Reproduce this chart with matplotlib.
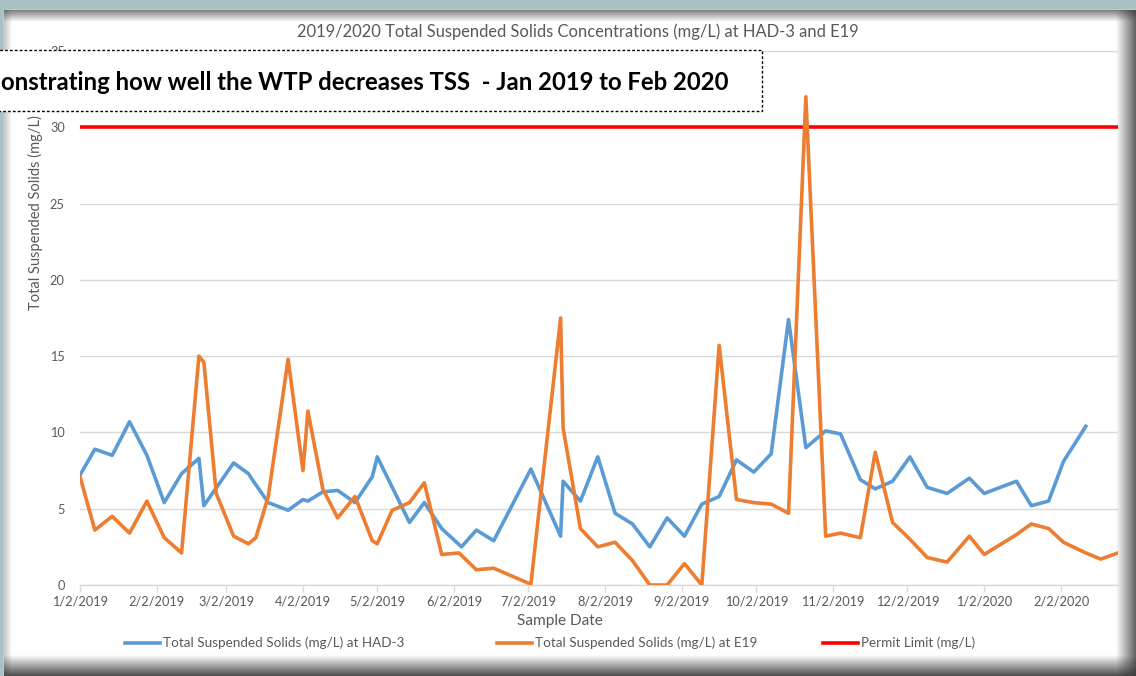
import matplotlib
matplotlib.use('Agg')

import matplotlib.pyplot as plt
import matplotlib.dates as mdates
from matplotlib.patches import Rectangle
import numpy as np
import pandas as pd

W, H = 1136, 676

# Sample data (mg/L)
had3_dates = ["2019-01-02", "2019-01-08", "2019-01-15", "2019-01-22", "2019-01-29",
              "2019-02-05", "2019-02-12", "2019-02-19", "2019-02-21",
              "2019-03-05", "2019-03-11", "2019-03-13", "2019-03-19", "2019-03-27",
              "2019-04-02", "2019-04-04", "2019-04-10", "2019-04-16", "2019-04-23", "2019-04-30",
              "2019-05-02", "2019-05-15", "2019-05-21", "2019-05-28",
              "2019-06-05", "2019-06-11", "2019-06-18",
              "2019-07-03", "2019-07-15", "2019-07-16", "2019-07-23", "2019-07-30",
              "2019-08-06", "2019-08-13", "2019-08-20", "2019-08-27",
              "2019-09-03", "2019-09-10", "2019-09-17", "2019-09-24",
              "2019-10-01", "2019-10-08", "2019-10-15", "2019-10-22", "2019-10-30",
              "2019-11-05", "2019-11-13", "2019-11-19", "2019-11-26",
              "2019-12-03", "2019-12-10", "2019-12-18", "2019-12-27",
              "2020-01-02", "2020-01-15", "2020-01-21", "2020-01-28", "2020-02-03", "2020-02-12"]
had3_tss = [7.2, 8.9, 8.5, 10.7, 8.5,
            5.4, 7.3, 8.3, 5.2,
            8.0, 7.3, 6.8, 5.4, 4.9,
            5.6, 5.5, 6.1, 6.2, 5.4, 7.1,
            8.4, 4.1, 5.4, 3.7,
            2.5, 3.6, 2.9,
            7.6, 3.2, 6.8, 5.5, 8.4,
            4.7, 4.0, 2.5, 4.4,
            3.2, 5.3, 5.8, 8.2,
            7.4, 8.6, 17.4, 9.0, 10.1,
            9.9, 6.9, 6.3, 6.8,
            8.4, 6.4, 6.0, 7.0,
            6.0, 6.8, 5.2, 5.5, 8.1, 10.4]

e19_dates = ["2019-01-02", "2019-01-08", "2019-01-15", "2019-01-22", "2019-01-29",
             "2019-02-05", "2019-02-12", "2019-02-19", "2019-02-21", "2019-02-26",
             "2019-03-05", "2019-03-11", "2019-03-14", "2019-03-19", "2019-03-27",
             "2019-04-02", "2019-04-04", "2019-04-10", "2019-04-16", "2019-04-23", "2019-04-30",
             "2019-05-02", "2019-05-08", "2019-05-15", "2019-05-21", "2019-05-28",
             "2019-06-04", "2019-06-11", "2019-06-18",
             "2019-07-03", "2019-07-15", "2019-07-16", "2019-07-23", "2019-07-30",
             "2019-08-06", "2019-08-13", "2019-08-20", "2019-08-27",
             "2019-09-03", "2019-09-10", "2019-09-17", "2019-09-24",
             "2019-10-01", "2019-10-08", "2019-10-15", "2019-10-22", "2019-10-30",
             "2019-11-05", "2019-11-13", "2019-11-19", "2019-11-26",
             "2019-12-03", "2019-12-10", "2019-12-18", "2019-12-27",
             "2020-01-02", "2020-01-15", "2020-01-21", "2020-01-28", "2020-02-03",
             "2020-02-12", "2020-02-18", "2020-02-25"]
e19_tss = [7.1, 3.6, 4.5, 3.4, 5.5,
           3.1, 2.1, 15.0, 14.6, 6.0,
           3.2, 2.7, 3.1, 5.8, 14.8,
           7.5, 11.4, 6.3, 4.4, 5.8, 2.9,
           2.7, 4.9, 5.4, 6.7, 2.0,
           2.1, 1.0, 1.1,
           0.05, 17.5, 10.3, 3.7, 2.5,
           2.8, 1.6, 0.0, 0.0,
           1.4, 0.0, 15.7, 5.6,
           5.4, 5.3, 4.7, 32.0, 3.2,
           3.4, 3.1, 8.7, 4.1,
           3.0, 1.8, 1.5, 3.2,
           2.0, 3.3, 4.0, 3.7, 2.8,
           2.1, 1.7, 2.1]

permit_limit = 30
x_start, x_end = "2019-01-02", "2020-02-25"
y_ticks = [0, 5, 10, 15, 20, 25, 30, 35]

title = "2019/2020 Total Suspended Solids Concentrations (mg/L) at HAD-3 and E19"
note = "onstrating how well the WTP decreases TSS  - Jan 2019 to Feb 2020"
xlabel = "Sample Date"
ylabel = "Total Suspended Solids (mg/L)"
labels = ["Total Suspended Solids (mg/L) at HAD-3",
          "Total Suspended Solids (mg/L) at E19",
          "Permit Limit (mg/L)"]

BLUE, ORANGE, RED = '#5B9BD5', '#ED7D31', '#FF0000'
GREY_TXT, GRID = '#595959', '#D9D9D9'

plt.rcParams['font.family'] = ['Lato', 'DejaVu Sans']
fig = plt.figure(figsize=(W / 100, H / 100), dpi=100)
renderer = fig.canvas.get_renderer()


def size_for(s, width_px, **kw):
    # font size that makes text s about width_px wide
    t = fig.text(0, 0, s, fontsize=10, **kw)
    w = t.get_window_extent(renderer).width
    t.remove()
    return 10 * width_px / w


def px(x, y):
    return x / W, 1 - y / H


# frame around the chart (grey-blue backdrop, white panel, shadows)
bg = fig.add_axes([0, 0, 1, 1], zorder=-10)
bg.axis('off')
bg.add_patch(Rectangle((0, 0), W, H, color='#A9C0C4', zorder=0))
bg.add_patch(Rectangle((4, 10), W - 4, H - 10, color='white', zorder=0.5))


def shade(x0, x1, y0, y1, horizontal, a0, a1, rgb=(0.22, 0.22, 0.22)):
    n = 64
    alpha = np.linspace(a0, a1, n)
    img = np.zeros((1, n, 4)) if horizontal else np.zeros((n, 1, 4))
    img[..., :3] = rgb
    img[..., 3] = alpha.reshape(img.shape[:2])
    bg.imshow(img, extent=(x0, x1, y1, y0), aspect='auto',
              interpolation='bilinear', zorder=2)


shade(4, W, 10, 22, False, 0.65, 0.0)
shade(4, 12, 10, H, True, 0.3, 0.0)
shade(1116, W, 10, H, True, 0.0, 0.8)
shade(4, W, 655, H, False, 0.0, 0.9)
bg.set_xlim(0, W)
bg.set_ylim(H, 0)

# main plot area
ax = fig.add_axes([80 / W, 1 - 585 / H, (1118 - 80) / W, (585 - 51) / H])
ax.set_facecolor('none')

d_had3 = pd.to_datetime(had3_dates)
d_e19 = pd.to_datetime(e19_dates)

ln_had3, = ax.plot(d_had3, had3_tss, color=BLUE, lw=2.6, solid_joinstyle='round', zorder=3)
ln_permit = ax.axhline(permit_limit, color=RED, lw=2.6, zorder=3.5)
ln_e19, = ax.plot(d_e19, e19_tss, color=ORANGE, lw=2.6, solid_joinstyle='round', zorder=4)

ax.set_xlim(pd.Timestamp(x_start), pd.Timestamp(x_end))
ax.set_ylim(0, 35)
ax.set_yticks(y_ticks)
ax.xaxis.set_major_locator(mdates.MonthLocator(bymonthday=2))
ax.xaxis.set_major_formatter(mdates.DateFormatter('%-m/%-d/%Y'))

tick_fs = size_for("1/2/2019", 56)
ax.tick_params(axis='x', length=5, width=1, color=GRID, labelcolor=GREY_TXT,
               labelsize=tick_fs, pad=2.5)
ax.tick_params(axis='y', length=0, labelcolor=GREY_TXT, labelsize=tick_fs, pad=11)
ax.grid(axis='y', color=GRID, lw=1)
ax.set_axisbelow(True)
for side in ['top', 'right', 'left']:
    ax.spines[side].set_visible(False)
ax.spines['bottom'].set_color(GRID)
ax.spines['bottom'].set_linewidth(1)

# titles and axis labels
fig.text(*px(578, 32), title, ha='center', va='center', color=GREY_TXT,
         fontsize=size_for(title, 561))
fig.text(*px(560, 621), xlabel, ha='center', va='center', color=GREY_TXT,
         fontsize=size_for(xlabel, 86))
fig.text(*px(35, 213), ylabel, ha='center', va='center', rotation=90, color=GREY_TXT,
         fontsize=size_for(ylabel, 195))

# legend entries placed like the Excel legend row
leg_fs = size_for(labels[0], 241)
hl = 35 / (leg_fs * 100 / 72)
for handle, lab, x0 in zip([ln_had3, ln_e19, ln_permit], labels, [125, 497, 823]):
    leg = fig.legend([handle], [lab], loc='center left', bbox_to_anchor=px(x0, 643),
                     frameon=False, fontsize=leg_fs, borderpad=0, borderaxespad=0,
                     handlelength=hl, handletextpad=0.25)
    for t in leg.get_texts():
        t.set_color(GREY_TXT)

# dashed annotation box over the top of the chart
ov = fig.add_axes([0, 0, 1, 1], zorder=5)
ov.axis('off')
ov.set_xlim(0, W)
ov.set_ylim(H, 0)
ov.add_patch(Rectangle((-10, 50), 772, 61, facecolor='white', edgecolor='black',
                       lw=1, linestyle=(0, (2, 1.5))))
ov.text(1, 82, note, ha='left', va='center', fontweight='bold', color='black',
        fontsize=size_for(note, 729, fontweight='bold'))

fig.savefig('out.png', dpi=100)
